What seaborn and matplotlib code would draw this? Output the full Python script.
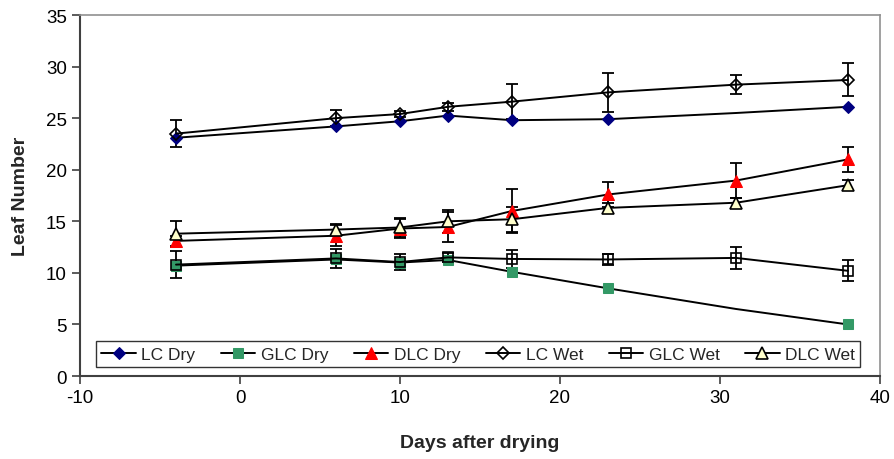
import numpy as np
import pandas as pd
import matplotlib
matplotlib.use("Agg")
import matplotlib.pyplot as plt
import seaborn as sns

sns.set_theme(style="white")
plt.rcParams["font.family"] = ["Liberation Sans", "DejaVu Sans"]
plt.rcParams["axes.unicode_minus"] = False

# data
days = [-4, 6, 10, 13, 17, 23, 31, 38]

lc_dry = [23.1, 24.2, 24.7, 25.25, 24.8, 24.9, 25.5, 26.1]
glc_dry = [10.7, 11.3, 11.0, 11.25, 10.1, 8.5, 6.5, 5.0]
dlc_dry = [13.1, 13.6, 14.3, 14.45, 16.0, 17.6, 18.95, 21.0]
lc_wet = [23.5, 25.0, 25.4, 26.1, 26.6, 27.5, 28.25, 28.7]
glc_wet = [10.8, 11.4, 11.05, 11.5, 11.35, 11.3, 11.45, 10.2]
dlc_wet = [13.8, 14.2, 14.4, 15.0, 15.2, 16.3, 16.8, 18.5]

dlc_dry_err = [0.5, 1.0, 0.9, 1.45, 2.1, 1.2, 1.7, 1.2]
lc_wet_err = [1.3, 0.8, 0.3, 0.4, 1.7, 1.9, 0.95, 1.6]
glc_wet_err = [1.3, 0.95, 0.75, 0.4, 0.9, 0.5, 1.05, 1.0]
dlc_wet_err = [1.25, 0.5, 0.95, 1.1, 1.2, 0.5, 0.5, 0.5]

series = [
    ("LC Dry", lc_dry, None,
     dict(marker="D", markersize=6.5, markerfacecolor="#000080", markeredgecolor="#000080"),
     [0, 1, 2, 3, 4, 5, 7]),
    ("GLC Dry", glc_dry, None,
     dict(marker="s", markersize=6.5, markerfacecolor="#339966", markeredgecolor="#339966"),
     [0, 1, 2, 3, 4, 5, 7]),
    ("DLC Dry", dlc_dry, dlc_dry_err,
     dict(marker="^", markersize=9, markerfacecolor="#FF0000", markeredgecolor="#FF0000"),
     None),
    ("LC Wet", lc_wet, lc_wet_err,
     dict(marker="D", markersize=6, fillstyle="none", markeredgecolor="black",
          markeredgewidth=1.2),
     None),
    ("GLC Wet", glc_wet, glc_wet_err,
     dict(marker="s", markersize=7.5, fillstyle="none", markeredgecolor="black",
          markeredgewidth=1.2),
     None),
    ("DLC Wet", dlc_wet, dlc_wet_err,
     dict(marker="^", markersize=8.5, markerfacecolor="#FFFFCC", markeredgecolor="black",
          markeredgewidth=1.2),
     None),
]

fig = plt.figure(figsize=(8.94, 4.6), dpi=100)
ax = fig.add_axes([0.0895, 0.1804, 0.8948, 0.7848])

for name, vals, err, mstyle, mevery in series:
    if err is not None:
        ax.errorbar(days, vals, yerr=err, fmt="none", ecolor="black", elinewidth=1.3,
                    capsize=4.5, capthick=1.3, zorder=2)
    df = pd.DataFrame({"day": days, "value": vals})
    sns.lineplot(data=df, x="day", y="value", ax=ax, color="black", linewidth=1.4,
                 label=name, markevery=mevery, zorder=3, **mstyle)

ax.set_xlim(-10, 40)
ax.set_ylim(0, 35)
ax.set_xticks(range(-10, 41, 10))
ax.set_yticks(range(0, 36, 5))
ax.tick_params(axis="both", labelsize=13.5, length=6, width=1.2, direction="out",
               colors="#404040", labelcolor="black", bottom=True, left=True)
ax.set_xlabel("Days after drying", fontsize=14, fontweight="bold", labelpad=20)
ax.set_ylabel("Leaf Number", fontsize=14, fontweight="bold", labelpad=12)

for side in ["left", "bottom"]:
    ax.spines[side].set_color("#404040")
    ax.spines[side].set_linewidth(1.5)
for side in ["top", "right"]:
    ax.spines[side].set_color("#909090")
    ax.spines[side].set_linewidth(1.2)

leg = ax.legend(loc="lower left", bbox_to_anchor=(0.02, 0.025, 0.955, 0.075),
                mode="expand", ncol=6, fontsize=12.5, frameon=True, fancybox=False,
                edgecolor="black", handlelength=2.0, borderaxespad=0, handletextpad=0.3,
                columnspacing=0.8, borderpad=0.3)
leg.get_frame().set_linewidth(1.0)

fig.savefig("out.png", dpi=100)
